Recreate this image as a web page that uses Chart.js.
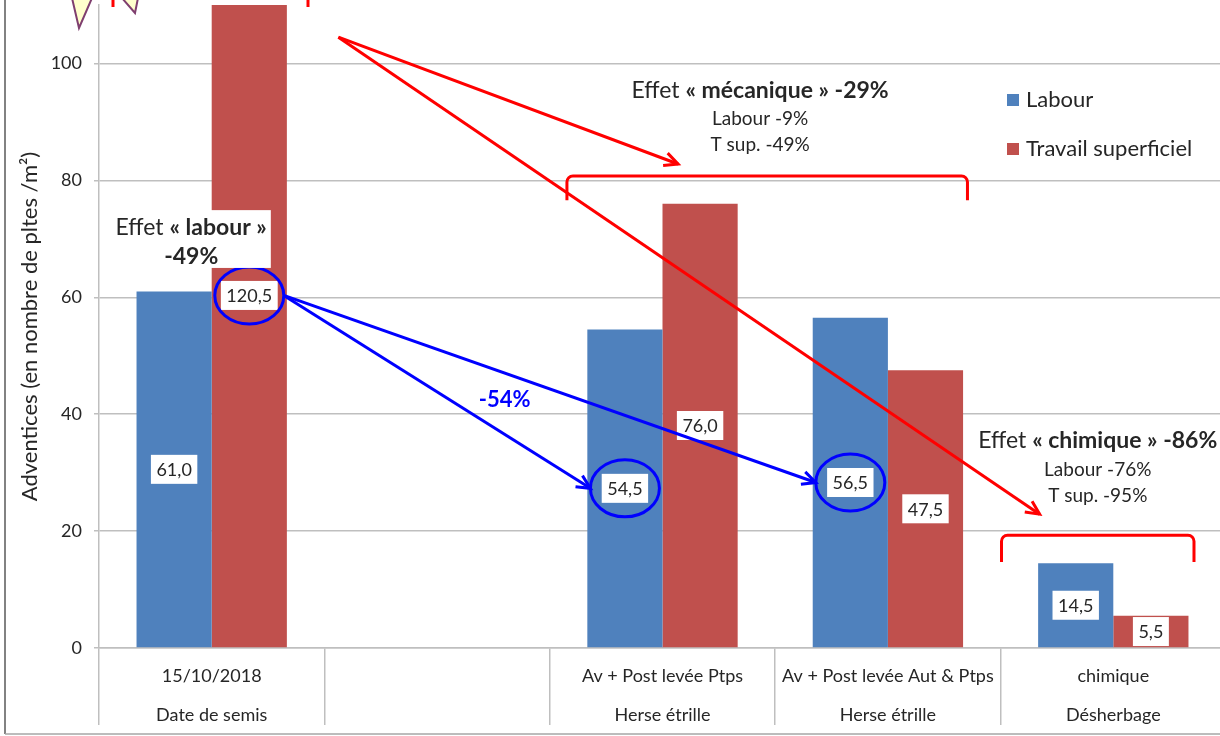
<!doctype html>
<html lang="fr">
<head>
  <meta charset="utf-8">
  <title>Adventices</title>
  <script src="https://cdn.jsdelivr.net/npm/chart.js@4.4.1/dist/chart.umd.min.js"></script>
  <style>
    html, body { margin:0; padding:0; background:#fff; overflow:hidden; }
    #wrap { width:1226px; height:736px; }
  </style>
</head>
<body>
<div id="wrap"><canvas id="myChart" width="1226" height="736"></canvas></div>

<script>
// categories (two label rows each)
const categories = [
  ['15/10/2018', 'Date de semis'],
  ['', ''],
  ['Av + Post levée Ptps', 'Herse étrille'],
  ['Av + Post levée Aut & Ptps', 'Herse étrille'],
  ['chimique', 'Désherbage']
];
const seriesNames = ['Labour', 'Travail superficiel'];
const labourValues  = [61.0, null, 54.5, 56.5, 14.5];
const travailValues = [120.5, null, 76.0, 47.5, 5.5];
const seriesColors = ['#4F81BD', '#C0504D'];
const yTicks = [0, 20, 40, 60, 80, 100];
const yMax = 110;

const fam = "Lato, 'Open Sans', sans-serif";
const txt = '#262626';

// annotations, in (category index, value) coordinates
const labourNote = { x: -0.091, lines: [[['Effet ', 0], ['« labour »', 1]], [['-49%', 1]]], y: [72.0, 66.9] };
const mecaNote = { x: 2.433, lines: [[['Effet ', 0], ['« mécanique » -29%', 1]]], sub: ['Labour -9%', 'T sup. -49%'], y: [95.3, 90.5, 86.1] };
const chimNote = { x: 3.931, lines: [[['Effet ', 0], ['« chimique » -86%', 1]]], sub: ['Labour -76%', 'T sup. -95%'], y: [35.4, 30.5, 26.0] };
const blueNote = { x: 1.30, y: 42.4, text: '-54%' };
const circled = [[1, 0], [0, 2], [0, 3]];          // [dataset, index]
const blueArrows = [[[1, 0], [0, 2]], [[1, 0], [0, 3]]];
const redStart = [0.562, 104.5];
const redEnds = [[2.069, 82.8], [3.673, 22.9]];
const brackets = [[1.576, 3.353, 80.75, 76.6], [3.504, 4.358, 19.3, 14.7]];

function fmt(v) { return v.toFixed(1).replace('.', ','); }

function arrowHead(ctx, x1, y1, x2, y2, len) {
  const a = Math.atan2(y2 - y1, x2 - x1);
  ctx.beginPath();
  ctx.moveTo(x2 - len * Math.cos(a - 0.45), y2 - len * Math.sin(a - 0.45));
  ctx.lineTo(x2, y2);
  ctx.lineTo(x2 - len * Math.cos(a + 0.45), y2 - len * Math.sin(a + 0.45));
  ctx.stroke();
}

function richLine(ctx, parts, cx, cy, size, draw) {
  let w = 0;
  parts.forEach(p => { ctx.font = (p[1] ? 'bold ' : '') + size + 'px ' + fam; w += ctx.measureText(p[0]).width; });
  if (!draw) return w;
  let x = cx - w / 2;
  ctx.textAlign = 'left';
  ctx.textBaseline = 'middle';
  ctx.fillStyle = txt;
  parts.forEach(p => {
    ctx.font = (p[1] ? 'bold ' : '') + size + 'px ' + fam;
    ctx.fillText(p[0], x, cy);
    x += ctx.measureText(p[0]).width;
  });
  return w;
}

const decorations = {
  id: 'decorations',
  afterDatasetsDraw(chart) {
    const ctx = chart.ctx;
    const xs = chart.scales.x, ys = chart.scales.y;
    const X = i => xs.getPixelForValue(i), Y = v => ys.getPixelForValue(v);
    const centers = [];
    ctx.save();

    // value labels in white boxes
    ctx.font = '18px ' + fam;
    ctx.textAlign = 'center';
    ctx.textBaseline = 'middle';
    chart.data.datasets.forEach((ds, d) => {
      centers[d] = [];
      chart.getDatasetMeta(d).data.forEach((el, i) => {
        const v = ds.data[i];
        if (v == null) return;
        const cx = el.x, cy = (el.y + el.base) / 2;
        centers[d][i] = [cx, cy];
        const s = fmt(v);
        const w = ctx.measureText(s).width + 11;
        ctx.fillStyle = '#fff';
        ctx.fillRect(cx - w / 2, cy - 14.5, w, 29);
        ctx.fillStyle = txt;
        ctx.fillText(s, cx, cy + 1);
      });
    });

    // blue circles and arrows
    const rx = 34.5, ry = 28.5;
    ctx.strokeStyle = '#0000FF';
    ctx.lineWidth = 3;
    circled.forEach(([d, i]) => {
      const [cx, cy] = centers[d][i];
      ctx.beginPath();
      ctx.ellipse(cx, cy, rx, ry, 0, 0, Math.PI * 2);
      ctx.stroke();
    });
    blueArrows.forEach(([a, b]) => {
      const [x1, y1] = centers[a[0]][a[1]];
      const [x2, y2] = centers[b[0]][b[1]];
      const sx = x1 + rx, ex = x2 - rx;
      ctx.beginPath();
      ctx.moveTo(sx, y1);
      ctx.lineTo(ex, y2);
      ctx.stroke();
      arrowHead(ctx, sx, y1, ex, y2, 15);
    });
    ctx.fillStyle = '#0000FF';
    ctx.font = 'bold 22px ' + fam;
    ctx.textAlign = 'center';
    ctx.fillText(blueNote.text, X(blueNote.x), Y(blueNote.y));

    // red arrows and brackets
    ctx.strokeStyle = '#FF0000';
    ctx.lineWidth = 3;
    const sx = X(redStart[0]), sy = Y(redStart[1]);
    redEnds.forEach(e => {
      const ex = X(e[0]), ey = Y(e[1]);
      ctx.beginPath();
      ctx.moveTo(sx, sy);
      ctx.lineTo(ex, ey);
      ctx.stroke();
      arrowHead(ctx, sx, sy, ex, ey, 15);
    });
    brackets.forEach(b => {
      const l = X(b[0]), r = X(b[1]), t = Y(b[2]), bt = Y(b[3]);
      ctx.beginPath();
      ctx.moveTo(l, bt);
      ctx.arcTo(l, t, r, t, 6);
      ctx.arcTo(r, t, r, bt, 6);
      ctx.lineTo(r, bt);
      ctx.stroke();
    });

    // effect notes
    const lx = X(labourNote.x);
    const w0 = richLine(ctx, labourNote.lines[0], lx, 0, 23, false);
    ctx.fillStyle = '#fff';
    ctx.fillRect(lx - w0 / 2 - 4, Y(labourNote.y[0]) - 17, w0 + 8, Y(labourNote.y[1]) - Y(labourNote.y[0]) + 28);
    labourNote.lines.forEach((ln, k) => richLine(ctx, ln, lx, Y(labourNote.y[k]), 23, true));
    [mecaNote, chimNote].forEach(n => {
      const cx = X(n.x);
      richLine(ctx, n.lines[0], cx, Y(n.y[0]), 23, true);
      n.sub.forEach((s, k) => richLine(ctx, [[s, 0]], cx, Y(n.y[k + 1]), 19, true));
    });

    // legend
    ctx.font = '22px ' + fam;
    ctx.textAlign = 'left';
    ctx.textBaseline = 'middle';
    seriesNames.forEach((name, k) => {
      const yy = 100 + k * 49;
      ctx.fillStyle = seriesColors[k];
      ctx.fillRect(1007, yy - 6, 12, 12);
      ctx.fillStyle = txt;
      ctx.fillText(name, 1026, yy);
    });

    // cropped shapes at the top edge
    ctx.fillStyle = '#FFFFCC';
    ctx.strokeStyle = '#7F3F6F';
    ctx.lineWidth = 2;
    [[[72, -2], [79, 28], [92, -2]], [[122, -2], [135, 13], [138, -2]]].forEach(p => {
      ctx.beginPath();
      ctx.moveTo(p[0][0], p[0][1]); ctx.lineTo(p[1][0], p[1][1]); ctx.lineTo(p[2][0], p[2][1]);
      ctx.fill(); ctx.stroke();
    });
    ctx.strokeStyle = '#FF0000';
    ctx.lineWidth = 3;
    [113, 308].forEach(x => { ctx.beginPath(); ctx.moveTo(x, 0); ctx.lineTo(x, 7); ctx.stroke(); });

    // chart frame
    ctx.strokeStyle = '#595959';
    ctx.lineWidth = 1.5;
    ctx.beginPath(); ctx.moveTo(5, 0); ctx.lineTo(5, 734); ctx.stroke();
    ctx.strokeStyle = '#a6a6a6';
    ctx.beginPath(); ctx.moveTo(5, 734); ctx.lineTo(1226, 734); ctx.stroke();
    ctx.restore();
  }
};

Chart.defaults.font.family = fam;
Chart.defaults.color = txt;

var ctx = document.getElementById('myChart').getContext('2d');
var myChart = new Chart(ctx, {
  type: 'bar',
  data: {
    labels: categories,
    datasets: [
      { label: seriesNames[0], data: labourValues, backgroundColor: seriesColors[0] },
      { label: seriesNames[1], data: travailValues, backgroundColor: seriesColors[1] }
    ]
  },
  plugins: [decorations],
  options: {
    responsive: false,
    animation: false,
    layout: { padding: { top: 5, left: 0, right: 0, bottom: 0 } },
    datasets: { bar: { categoryPercentage: 0.667, barPercentage: 1.0 } },
    plugins: { legend: { display: false }, tooltip: { enabled: false } },
    scales: {
      x: {
        grid: { offset: true, drawOnChartArea: false, drawTicks: true, tickLength: 77, color: '#bfbfbf', lineWidth: 1.5 },
        border: { color: '#bfbfbf', width: 1.5 },
        ticks: { color: txt, font: { size: 18, lineHeight: 2.2 }, padding: -69, maxRotation: 0, autoSkip: false },
        afterFit: s => { s.height = 88; s.paddingLeft = 0; s.paddingRight = 0; }
      },
      y: {
        min: 0, max: yMax,
        afterBuildTicks: s => { s.ticks = yTicks.map(v => ({ value: v })); },
        grid: { color: '#bfbfbf', lineWidth: 1.5, tickLength: 5 },
        border: { color: '#bfbfbf', width: 1.5 },
        ticks: { color: txt, font: { size: 18 }, padding: 12 },
        title: { display: true, text: 'Adventices (en nombre de pltes /m²)', color: txt, font: { size: 22 }, padding: { top: 17, bottom: 0 } },
        afterFit: s => { s.width = 99; s.paddingTop = 0; s.paddingBottom = 0; }
      }
    }
  }
});
</script>
</body>
</html>
